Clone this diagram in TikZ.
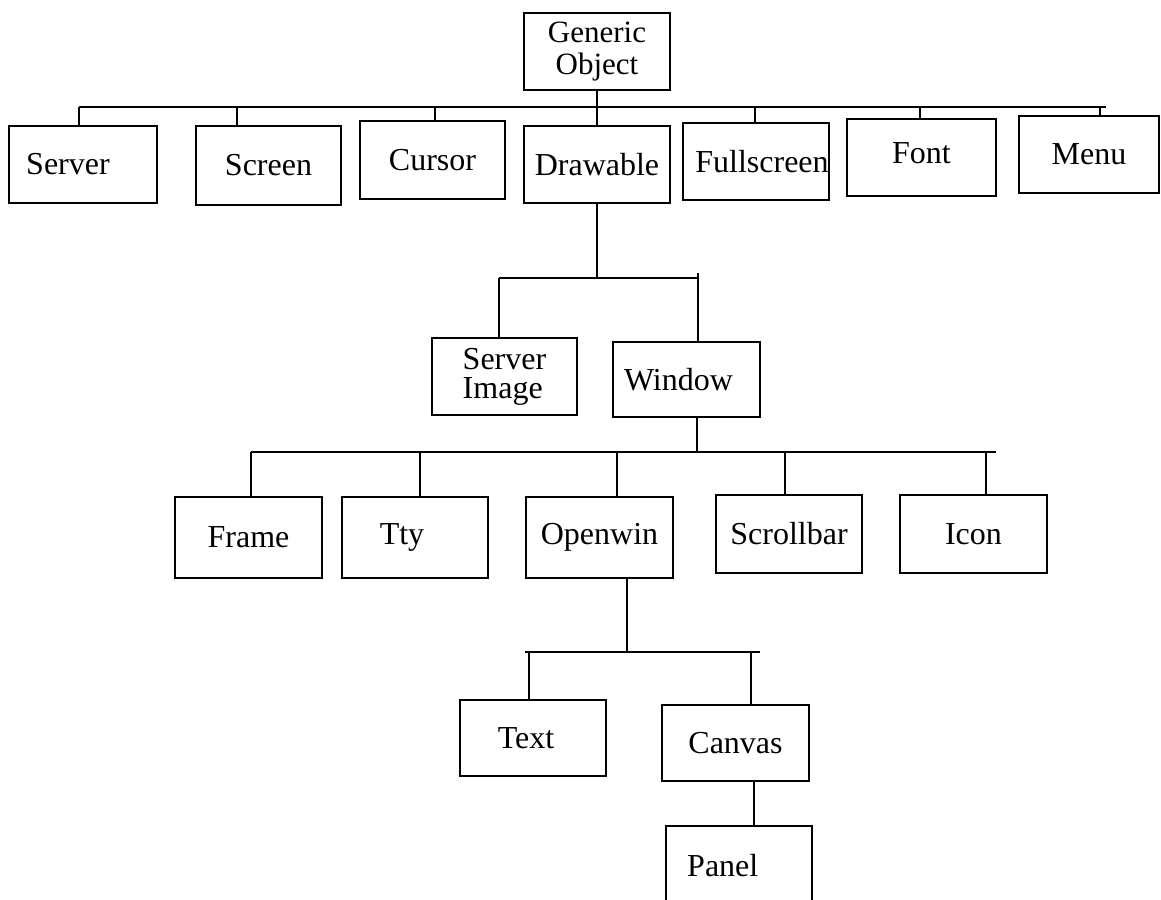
\documentclass[tikz,border=0pt]{standalone}
\usepackage{fontspec}
\setmainfont{Liberation Serif}
\newcommand{\lblfont}{\fontsize{32}{32}\selectfont}
\newcommand{\genfont}{\fontsize{31}{32}\selectfont}
\begin{document}
\begin{tikzpicture}[x=1pt,y=-1pt,
  box/.style={draw, line width=1.6pt, inner sep=0pt, font=\lblfont},
  conn/.style={line width=1.6pt}]
\clip (0,0) rectangle (1161,899);
\fill[white] (0,0) rectangle (1161,899);
% level 0
\node[box, minimum width=146pt, minimum height=77pt, align=center, font=\genfont] (gen) at (597,51.5) {Generic\\Object};
% level 1
\node[box, minimum width=148pt, minimum height=77pt] (server) at (83,164.5) {Server\hspace*{30pt}};
\node[box, minimum width=145pt, minimum height=79pt] (screen) at (268.5,165.5) {Screen};
\node[box, minimum width=145pt, minimum height=78pt] (cursor) at (432.5,160) {Cursor};
\node[box, minimum width=146pt, minimum height=77pt] (drawable) at (597,164.5) {Drawable};
\node[box, minimum width=146pt, minimum height=77pt] (fullscreen) at (756,161.5) {\hspace*{12pt}Fullscreen};
\node[box, minimum width=149pt, minimum height=77pt] (font) at (921.5,157.5) {\raisebox{8pt}{Font}};
\node[box, minimum width=140pt, minimum height=77pt] (menu) at (1089,154.5) {Menu};
% level 2
\node[box, minimum width=145pt, minimum height=77pt, align=left] (serverimg) at (504.5,376.5) {Server\\[-3pt]Image};
\node[box, minimum width=147pt, minimum height=75pt] (window) at (686.5,379.5) {Window\hspace*{16pt}};
% level 3
\node[box, minimum width=147pt, minimum height=81pt] (frame) at (248.5,537.5) {Frame};
\node[box, minimum width=146pt, minimum height=81pt] (tty) at (415,537.5) {Tty\hspace*{26pt}};
\node[box, minimum width=147pt, minimum height=81pt] (openwin) at (599.5,537.5) {Openwin};
\node[box, minimum width=146pt, minimum height=78pt] (scrollbar) at (789,534) {Scrollbar};
\node[box, minimum width=147pt, minimum height=78pt] (icon) at (973.5,534) {Icon};
% level 4
\node[box, minimum width=146pt, minimum height=76pt] (text) at (533,738) {Text\hspace*{14pt}};
\node[box, minimum width=147pt, minimum height=76pt] (canvas) at (735.5,743) {Canvas};
% level 5
\node[box, minimum width=146pt, minimum height=154pt] (panel) at (739,903) {};
\node[font=\lblfont, anchor=west, inner sep=0pt] (panellbl) at (687,866) {Panel};
% bar 1
\coordinate (b1l) at (79,107);
\coordinate (b1r) at (1106,107);
\coordinate (j0) at (597,107);
\coordinate (jscreen) at (237,107);
\coordinate (jcursor) at (435,107);
\coordinate (jfull) at (755,107);
\coordinate (jfont) at (920,107);
\coordinate (jmenu) at (1100,107);
\draw[conn] (b1l) -- (b1r);
\draw[conn] (gen.south) -- (j0);
\draw[conn] (b1l) -- (b1l |- server.north);
\draw[conn] (jscreen) -- (jscreen |- screen.north);
\draw[conn] (jcursor) -- (jcursor |- cursor.north);
\draw[conn] (j0) -- (drawable.north);
\draw[conn] (jfull) -- (jfull |- fullscreen.north);
\draw[conn] (jfont) -- (jfont |- font.north);
\draw[conn] (jmenu) -- (jmenu |- menu.north);
% bar 2
\coordinate (b2l) at (499,278);
\coordinate (b2r) at (698,278);
\draw[conn] (drawable.south) -- (drawable.south |- b2l);
\draw[conn] (b2l) -- (b2r);
\draw[conn] (b2l) -- (b2l |- serverimg.north);
\draw[conn] (b2r) -- (b2r |- window.north);
\draw[conn] (b2r) -- ++(0,-5);
% bar 3
\coordinate (b3l) at (251,452);
\coordinate (b3r) at (996,452);
\coordinate (jwin) at (697,452);
\coordinate (jtty) at (420,452);
\coordinate (jopen) at (617,452);
\coordinate (jscroll) at (785,452);
\coordinate (jicon) at (986,452);
\draw[conn] (jwin |- window.south) -- (jwin);
\draw[conn] (b3l) -- (b3r);
\draw[conn] (b3l) -- (b3l |- frame.north);
\draw[conn] (jtty) -- (jtty |- tty.north);
\draw[conn] (jopen) -- (jopen |- openwin.north);
\draw[conn] (jscroll) -- (jscroll |- scrollbar.north);
\draw[conn] (jicon) -- (jicon |- icon.north);
% bar 4
\coordinate (b4l) at (525,652);
\coordinate (b4r) at (760,652);
\coordinate (jow) at (627,652);
\coordinate (jtext) at (529,652);
\coordinate (jcanvas) at (751,652);
\draw[conn] (jow |- openwin.south) -- (jow);
\draw[conn] (b4l) -- (b4r);
\draw[conn] (jtext) -- (jtext |- text.north);
\draw[conn] (jcanvas) -- (jcanvas |- canvas.north);
% canvas to panel
\coordinate (jpanel) at (754,800);
\draw[conn] (jpanel |- canvas.south) -- (jpanel |- panel.north);
\end{tikzpicture}
\end{document}
